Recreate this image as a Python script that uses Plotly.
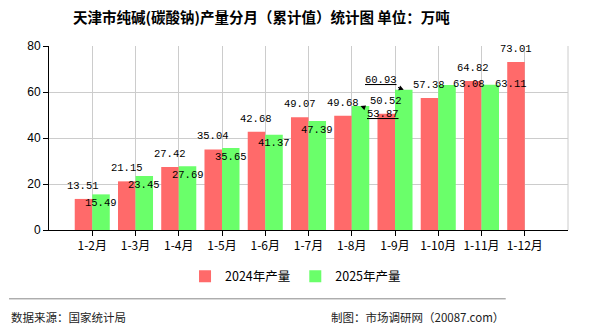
import plotly.graph_objects as go

categories = ["1-2月", "1-3月", "1-4月", "1-5月", "1-6月", "1-7月", "1-8月", "1-9月", "1-10月", "1-11月", "1-12月"]
values_2024 = [13.51, 21.15, 27.42, 35.04, 42.68, 49.07, 49.68, 50.52, 57.38, 64.82, 73.01]
values_2025 = [15.49, 23.45, 27.69, 35.65, 41.37, 47.39, 53.87, 60.93, 63.08, 63.11, None]
series_names = ["2024年产量", "2025年产量"]
y_ticks = [0, 20, 40, 60, 80]

RED = "#ff6a6a"
GREEN = "#6aff6a"
CJK = "Noto Sans CJK SC"
MONO = "Liberation Mono"

fig = go.Figure()
fig.add_trace(go.Bar(x=categories, y=values_2024, name=series_names[0], marker=dict(color=RED, line=dict(width=0))))
fig.add_trace(go.Bar(x=categories, y=values_2025, name=series_names[1], marker=dict(color=GREEN, line=dict(width=0))))

bar_px = 8.76  # offset of bar centre from category centre
annotations = []
for i, v in enumerate(values_2024):
    annotations.append(dict(x=i, y=v, xref="x", yref="y", text=f"{v:.2f}", showarrow=False,
                            xshift=-bar_px, yshift=13, font=dict(family=MONO, size=10.5, color="black")))
special = {6: ("arrow", 22, 8), 7: ("arrow", -23, -10), 8: ("shift", 22, 1), 9: ("shift", 21, 1)}
for i, v in enumerate(values_2025):
    if v is None:
        continue
    if i in special:
        kind, dx, dy = special[i]
        if kind == "arrow":
            annotations.append(dict(x=i, y=v, xref="x", yref="y", text=f"<u>{v:.2f}</u>", showarrow=True,
                                    arrowhead=2, arrowsize=1, arrowwidth=1, arrowcolor="black",
                                    ax=dx, ay=dy, xshift=bar_px, standoff=0,
                                    font=dict(family=MONO, size=10.5, color="black")))
        else:
            annotations.append(dict(x=i, y=v, xref="x", yref="y", text=f"{v:.2f}", showarrow=False,
                                    xshift=bar_px + dx, yshift=dy, font=dict(family=MONO, size=10.5, color="black")))
    else:
        annotations.append(dict(x=i, y=v, xref="x", yref="y", text=f"{v:.2f}", showarrow=False,
                                xshift=bar_px, yshift=-8.5, font=dict(family=MONO, size=10.5, color="black")))

annotations.append(dict(x=-0.077, y=-0.474, xref="paper", yref="paper", text="数据来源：国家统计局",
                        showarrow=False, xanchor="left", yanchor="middle",
                        font=dict(family=CJK, size=11.5, color="#222")))
annotations.append(dict(x=0.88, y=-0.474, xref="paper", yref="paper", text="制图：市场调研网（20087.com）",
                        showarrow=False, xanchor="right", yanchor="middle",
                        font=dict(family=CJK, size=11.5, color="#222")))

shapes = [
    dict(type="line", xref="paper", yref="paper", x0=-0.077, x1=0.88, y0=-0.374, y1=-0.374,
         line=dict(color="#888", width=1)),
    dict(type="line", xref="paper", yref="paper", x0=1, x1=1, y0=0, y1=1, line=dict(color="#ccc", width=1)),
]

fig.update_layout(
    width=590, height=330,
    margin=dict(l=49, r=22, t=46, b=100),
    paper_bgcolor="white", plot_bgcolor="white",
    barmode="group", bargap=0.19, bargroupgap=0,
    title=dict(text="天津市纯碱(碳酸钠)产量分月（累计值）统计图 单位：万吨", x=0.443, xanchor="center",
               y=0.945, yanchor="middle", font=dict(family=CJK, size=14.5, color="black", weight="bold")),
    xaxis=dict(type="category", categoryorder="array", categoryarray=categories, range=[-1, 11],
               showgrid=True, gridcolor="#ccc", gridwidth=1,
               showline=True, linecolor="black", linewidth=1,
               ticks="outside", ticklen=5, tickcolor="black",
               tickfont=dict(family=CJK, size=12, color="black")),
    yaxis=dict(range=[0, 80], tickvals=y_ticks, showgrid=True, gridcolor="#ccc", gridwidth=1,
               showline=True, linecolor="black", linewidth=1, zeroline=False,
               ticks="outside", ticklen=5, tickcolor="black",
               tickfont=dict(family="Liberation Sans", size=12, color="black")),
    legend=dict(orientation="h", x=0.475, xanchor="center", y=-0.253, yanchor="middle",
                font=dict(family=CJK, size=12.5, color="black"), itemwidth=30),
    annotations=annotations,
    shapes=shapes,
    showlegend=True,
)

fig.write_html("out.html")
